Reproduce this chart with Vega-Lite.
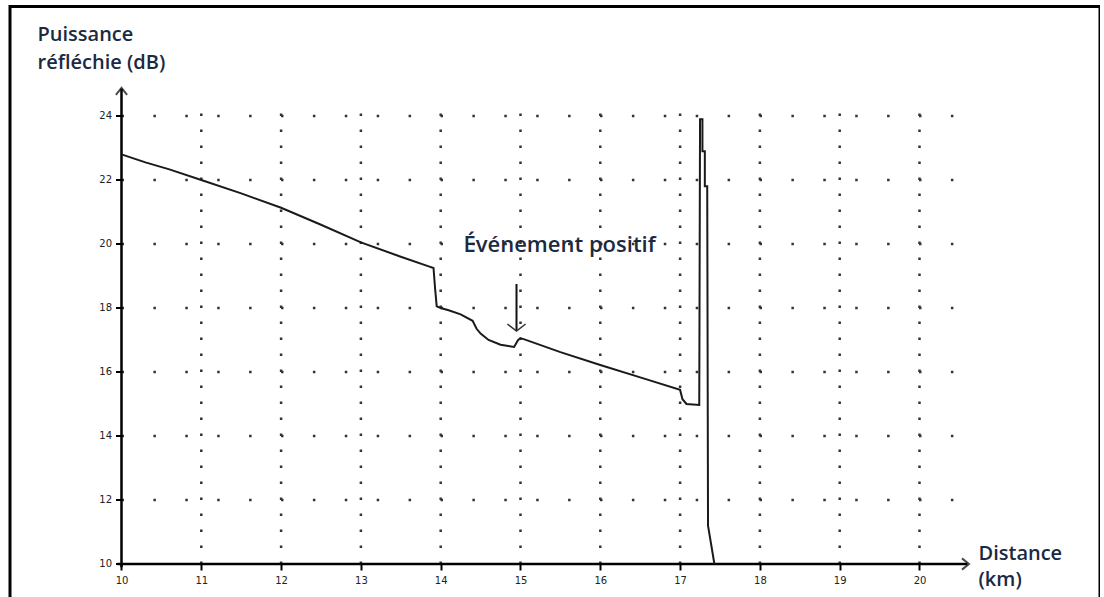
{
  "$schema": "https://vega.github.io/schema/vega-lite/v6.json",
  "width": 1090,
  "height": 600,
  "autosize": {"type": "none"},
  "padding": {"left": 10, "top": 6.5, "right": 0, "bottom": 0},
  "background": "white",
  "config": {
    "view": {"stroke": "#000", "strokeWidth": 3},
    "axis": {"domain": false, "grid": false, "ticks": true, "tickColor": "#000", "tickWidth": 2, "tickSize": 6,
      "labelColor": "#222", "labelFont": "DejaVu Sans", "labelFontSize": 10, "format": "d",
      "titleFont": "Open Sans", "titleFontSize": 20, "titleFontWeight": 600, "titleColor": "#1b2a41"}
  },
  "datasets": {
    "curve": [
      {"n": 0, "km": 10.0, "db": 22.8},
      {"n": 1, "km": 10.3, "db": 22.55},
      {"n": 2, "km": 10.6, "db": 22.33},
      {"n": 3, "km": 11.0, "db": 22.0},
      {"n": 4, "km": 11.5, "db": 21.58},
      {"n": 5, "km": 12.0, "db": 21.13},
      {"n": 6, "km": 12.5, "db": 20.6},
      {"n": 7, "km": 13.0, "db": 20.05},
      {"n": 8, "km": 13.5, "db": 19.6},
      {"n": 9, "km": 13.85, "db": 19.3},
      {"n": 10, "km": 13.91, "db": 19.25},
      {"n": 11, "km": 13.93, "db": 18.6},
      {"n": 12, "km": 13.95, "db": 18.05},
      {"n": 13, "km": 14.0, "db": 18.0},
      {"n": 14, "km": 14.1, "db": 17.93},
      {"n": 15, "km": 14.25, "db": 17.8},
      {"n": 16, "km": 14.4, "db": 17.6},
      {"n": 17, "km": 14.45, "db": 17.35},
      {"n": 18, "km": 14.5, "db": 17.2},
      {"n": 19, "km": 14.6, "db": 17.0},
      {"n": 20, "km": 14.75, "db": 16.85},
      {"n": 21, "km": 14.92, "db": 16.78},
      {"n": 22, "km": 14.97, "db": 17.0},
      {"n": 23, "km": 15.0, "db": 17.05},
      {"n": 24, "km": 15.05, "db": 17.02},
      {"n": 25, "km": 15.5, "db": 16.62},
      {"n": 26, "km": 16.0, "db": 16.22},
      {"n": 27, "km": 16.5, "db": 15.83},
      {"n": 28, "km": 17.0, "db": 15.44},
      {"n": 29, "km": 17.03, "db": 15.15},
      {"n": 30, "km": 17.08, "db": 15.0},
      {"n": 31, "km": 17.24, "db": 14.97},
      {"n": 32, "km": 17.25, "db": 23.9},
      {"n": 33, "km": 17.28, "db": 23.9},
      {"n": 34, "km": 17.28, "db": 22.9},
      {"n": 35, "km": 17.31, "db": 22.9},
      {"n": 36, "km": 17.31, "db": 21.8},
      {"n": 37, "km": 17.34, "db": 21.8},
      {"n": 38, "km": 17.35, "db": 11.2},
      {"n": 39, "km": 17.43, "db": 10.0}
    ],
    "vgrid": [{"km": 11}, {"km": 12}, {"km": 13}, {"km": 14}, {"km": 15}, {"km": 16}, {"km": 17}, {"km": 18}, {"km": 19}, {"km": 20}],
    "hgrid": [{"db": 12}, {"db": 14}, {"db": 16}, {"db": 18}, {"db": 20}, {"db": 22}, {"db": 24}],
    "one": [{}]
  },
  "layer": [
    {
      "data": {"name": "vgrid"},
      "mark": {"type": "rule", "color": "#333", "strokeWidth": 2.5, "strokeDash": [2.5, 13.5]},
      "encoding": {
        "x": {"field": "km", "type": "quantitative"},
        "y": {"datum": 10},
        "y2": {"datum": 24.5}
      }
    },
    {
      "data": {"name": "hgrid"},
      "mark": {"type": "rule", "color": "#333", "strokeWidth": 2.5, "strokeDash": [2.5, 29.4]},
      "encoding": {
        "y": {"field": "db", "type": "quantitative"},
        "x": {"datum": 10},
        "x2": {"datum": 20.5}
      }
    },
    {
      "data": {"name": "one"},
      "mark": {"type": "rule", "color": "#000", "strokeWidth": 2.5},
      "encoding": {"y": {"datum": 10}, "x": {"datum": 9.95}, "x2": {"datum": 20.6}}
    },
    {
      "data": {"name": "one"},
      "mark": {"type": "rule", "color": "#000", "strokeWidth": 2.5},
      "encoding": {"x": {"datum": 10}, "y": {"datum": 9.9}, "y2": {"datum": 24.85}}
    },
    {
      "data": {"name": "one"},
      "mark": {"type": "point", "shape": "M-1,-0.8L0,0L-1,0.8", "filled": false, "stroke": "#000", "strokeWidth": 2, "size": 196},
      "encoding": {"x": {"datum": 20.62}, "y": {"datum": 10}}
    },
    {
      "data": {"name": "one"},
      "mark": {"type": "point", "shape": "M-0.8,1L0,0L0.8,1", "filled": false, "stroke": "#000", "strokeWidth": 2, "size": 196},
      "encoding": {"x": {"datum": 10}, "y": {"datum": 24.88}}
    },
    {
      "data": {"name": "curve"},
      "mark": {"type": "line", "color": "#1a1a1a", "strokeWidth": 2, "interpolate": "linear"},
      "encoding": {
        "x": {"field": "km", "type": "quantitative",
          "scale": {"domain": [8.6028, 22.262], "nice": false, "zero": false},
          "axis": {"values": [10, 11, 12, 13, 14, 15, 16, 17, 18, 19, 20], "offset": -42.5, "labelPadding": 5,
            "title": ["Distance", "(km)"], "titleAngle": 0, "titleX": 968, "titleY": -5, "titleAlign": "left", "titleBaseline": "alphabetic", "titleLineHeight": 26}},
        "y": {"field": "db", "type": "quantitative",
          "scale": {"domain": [8.672, 27.42], "nice": false, "zero": false},
          "axis": {"values": [10, 12, 14, 16, 18, 20, 22, 24], "offset": -111.5, "labelPadding": 4,
            "title": ["Puissance", "réfléchie (dB)"], "titleAngle": 0, "titleX": -84.5, "titleY": 33.5, "titleAlign": "left", "titleBaseline": "alphabetic", "titleLineHeight": 28}},
        "order": {"field": "n", "type": "quantitative"}
      }
    },
    {
      "data": {"name": "one"},
      "mark": {"type": "rule", "color": "#111", "strokeWidth": 2},
      "encoding": {"x": {"datum": 14.95}, "y": {"datum": 18.75}, "y2": {"datum": 17.3}}
    },
    {
      "data": {"name": "one"},
      "mark": {"type": "point", "shape": "M-1.3,-1L0,0L1.3,-1", "filled": false, "stroke": "#333", "strokeWidth": 1.5, "size": 196, "opacity": 1},
      "encoding": {"x": {"datum": 14.95}, "y": {"datum": 17.28}}
    },
    {
      "data": {"name": "one"},
      "mark": {"type": "text", "text": "Événement positif", "font": "Open Sans", "fontSize": 22, "fontWeight": 600, "color": "#1b2a41", "align": "center", "baseline": "middle"},
      "encoding": {"x": {"datum": 15.49}, "y": {"datum": 19.97}}
    }
  ]
}
